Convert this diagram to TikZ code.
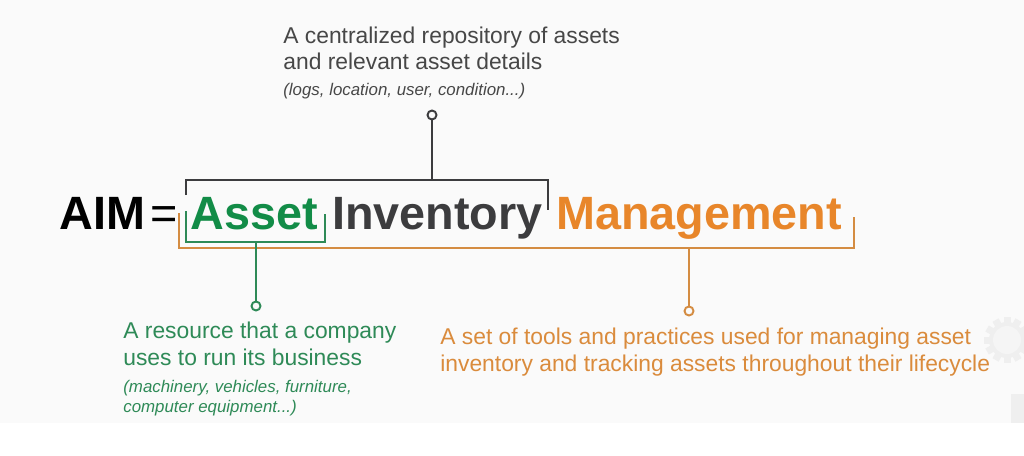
\documentclass[tikz,border=0pt]{standalone}
\usepackage{fontspec}
\setmainfont{Liberation Sans}
\usepackage{xcolor}
\definecolor{aimgreen}{HTML}{128C47}
\definecolor{aimgray}{HTML}{3C3C3E}
\definecolor{aimorange}{HTML}{E8862A}
\definecolor{linorange}{HTML}{D48C42}
\definecolor{txtgray}{HTML}{474747}
\definecolor{txtgreen}{HTML}{2E8A57}
\definecolor{txtorange}{HTML}{DA8B3C}
\definecolor{bggray}{HTML}{FAFAFA}
\definecolor{gearc}{HTML}{EFEFEF}
\tikzset{
  word/.style={anchor=base west, inner sep=0pt, font=\fontsize{26.6}{30}\selectfont\bfseries},
  desc/.style={anchor=base west, inner sep=0pt, align=left, font=\fontsize{13}{15.3}\selectfont},
  note/.style={anchor=base west, inner sep=0pt, align=left, font=\fontsize{9.6}{11.3}\selectfont\itshape},
  bracket/.style={line width=1.1pt, line cap=butt},
  pindot/.style={circle, draw=#1, line width=1.1pt, fill=bggray, inner sep=0pt, minimum size=0.18cm},
}

\begin{document}
\begin{tikzpicture}[x=0.02cm, y=-0.02cm]
  \useasboundingbox (0,0) rectangle (1024,456);
  % background
  \fill[bggray] (0,0) rectangle (1024,423);

  % faint gear at the right edge
  \foreach \a in {0,30,...,330}
    \fill[gearc, rotate around={\a:(1007,340)}] (1003.5,317) rectangle (1010.5,324);
  \fill[gearc] (1007,340) circle (18);
  \fill[bggray!50!gearc] (1007,340) circle (14);
  \fill[gearc] (1011,394) rectangle (1024,423);

  % title words
  \node[word, black] (aim) at (59,229) {AIM};
  \node[word, black, font=\fontsize{26.6}{30}\selectfont] (eq) at (150,229) {=};
  \node[word, aimgreen] (asset) at (190,229) {Asset};
  \node[word, aimgray] (inventory) at (332,229) {Inventory};
  \node[word, aimorange] (management) at (556,229) {Management};

  % brackets
  \coordinate (gl) at (186,195);
  \coordinate (gr) at (548,210);
  \coordinate (gtop) at (432,180);
  \draw[bracket, aimgray] (gl) |- (gtop) -| (gr);

  \coordinate (al) at (186,211);
  \coordinate (ar) at (325,214);
  \coordinate (abot) at (256,242);
  \draw[bracket, txtgreen] (al) |- (abot) -| (ar);

  \coordinate (ml) at (179,213);
  \coordinate (mr) at (854,217);
  \coordinate (mbot) at (689,248);
  \draw[bracket, linorange] (ml) |- (mbot) -| (mr);

  % pins
  \node[pindot=aimgray] (gdot) at (432,115) {};
  \node[pindot=txtgreen] (adot) at (256,306) {};
  \node[pindot=linorange] (mdot) at (689,311) {};
  \draw[bracket, aimgray] (gtop) -- (gdot);
  \draw[bracket, txtgreen] (abot) -- (adot);
  \draw[bracket, linorange] (mbot) -- (mdot);

  % descriptions (base = last line)
  \node[desc, txtgray] (invtxt) at (283,70) {A centralized repository of assets\\and relevant asset details};
  \node[note, txtgray] (invnote) at (283,95) {(logs, location, user, condition...)};

  \node[desc, txtgreen] (assettxt) at (123,365) {A resource that a company\\uses to run its business};
  \node[note, txtgreen] (assetnote) at (123,412) {(machinery, vehicles, furniture,\\computer equipment...)};

  \node[desc, txtorange] (mgmttxt) at (440,371) {A set of tools and practices used for managing asset\\inventory and tracking assets throughout their lifecycle};
\end{tikzpicture}
\end{document}
